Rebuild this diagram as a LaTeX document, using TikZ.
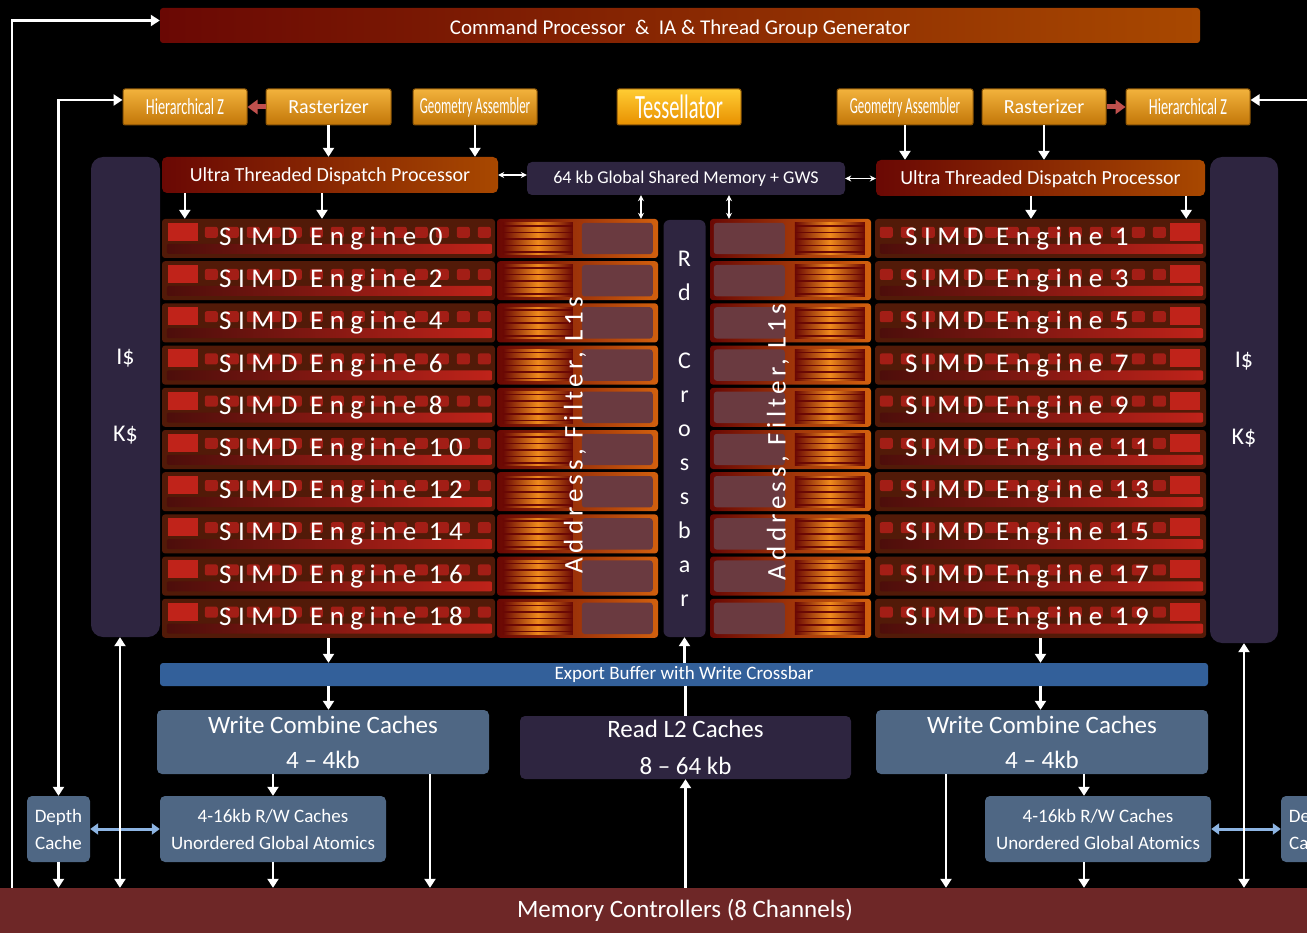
\documentclass[tikz,border=0pt]{standalone}
\usepackage{fontspec}
\setmainfont{Carlito}
\newfontfamily\spacedfont[LetterSpace=24]{Carlito}
\usetikzlibrary{calc,arrows.meta,backgrounds}
\definecolor{ctrlred}{HTML}{C0504D}
\definecolor{panelpurple}{HTML}{2E2540}
\definecolor{slateblk}{HTML}{4F6784}
\definecolor{exportblue}{HTML}{33609A}
\definecolor{memred}{HTML}{6E2727}
\definecolor{linkblue}{HTML}{8DB4E2}
\definecolor{darkrust}{HTML}{6A0804}
\definecolor{rust}{HTML}{A84800}
\definecolor{goldtop}{HTML}{F2B23C}
\definecolor{goldbot}{HTML}{C27608}
\definecolor{tesstop}{HTML}{FFCC33}
\definecolor{tessbot}{HTML}{E89000}
\definecolor{simdbg}{HTML}{521A08}
\definecolor{simdred}{HTML}{C0231A}
\definecolor{filtorange}{HTML}{D2600E}
\definecolor{filtglow}{HTML}{F08A1C}
\definecolor{filtmauve}{HTML}{6A3A40}

\begin{document}
\begin{tikzpicture}[x=1pt,y=-1pt,
  show background rectangle,background rectangle/.style={fill=black},
  box/.style={rectangle,rounded corners=5pt,inner sep=0pt,text=white,align=center},
  unit/.style={box,left color=darkrust,right color=rust},
  gold/.style={box,rounded corners=2pt,top color=goldtop,bottom color=goldbot,draw=goldbot!70!black,line width=1pt,minimum height=36pt,font=\fontsize{20}{22}\selectfont},
  panel/.style={box,fill=panelpurple},
  cache/.style={box,fill=slateblk},
  simd/.style={box,rounded corners=3pt,fill=simdbg,minimum height=39pt},
  filt/.style={box,rounded corners=3pt,left color=darkrust,right color=filtorange,minimum height=39pt},
  engtxt/.style={text=white,inner sep=0pt,font=\spacedfont\fontsize{27}{28}\selectfont},
  redln/.style={ctrlred,line width=5pt},
  wline/.style={white,line width=2.5pt},
  warr/.style={wline,-{Triangle[length=9pt,width=11pt]}},
  wdbl/.style={wline,{Triangle[length=9pt,width=11pt]}-{Triangle[length=9pt,width=11pt]}},
  thinarr/.style={white,line width=1.5pt,{Stealth[length=6pt,width=6pt]}-{Stealth[length=6pt,width=6pt]}},
  bdbl/.style={linkblue,line width=3pt,{Triangle[length=8pt,width=11pt]}-{Triangle[length=8pt,width=11pt]}},
  ]
\useasboundingbox (0,0) rectangle (1307,933);
\clip (0,0) rectangle (1307,933);

% front end
\node[unit,rounded corners=3pt,minimum width=1040pt,minimum height=35pt,font=\fontsize{21}{26}\selectfont] (cp) at (680,25.5) {\raisebox{-9pt}[0pt][0pt]{Command Processor\ \ \&\ \ IA \& Thread Group Generator}};
\node[gold,minimum width=124pt] (hzL) at (185,107) {\scalebox{0.62}[1]{\fontsize{23}{24}\selectfont Hierarchical Z}};
\node[gold,minimum width=125pt] (rasL) at (328.5,107) {Rasterizer};
\node[gold,minimum width=124pt] (gaL) at (475,107) {\scalebox{0.56}[1]{\fontsize{23}{24}\selectfont Geometry Assembler}};
\node[gold,minimum width=124pt,top color=tesstop,bottom color=tessbot] (tess) at (679,107) {\scalebox{0.6}[1]{\fontsize{34}{36}\selectfont Tessellator}};
\node[gold,minimum width=136pt] (gaR) at (905,107) {\scalebox{0.56}[1]{\fontsize{23}{24}\selectfont Geometry Assembler}};
\node[gold,minimum width=124pt] (rasR) at (1044,107) {Rasterizer};
\node[gold,minimum width=124pt] (hzR) at (1188,107) {\scalebox{0.62}[1]{\fontsize{23}{24}\selectfont Hierarchical Z}};

\node[unit,minimum width=336pt,minimum height=36pt,font=\fontsize{20}{24}\selectfont] (udL) at (330,175) {\raisebox{-7pt}[0pt][0pt]{Ultra Threaded Dispatch Processor}};
\node[panel,minimum width=318pt,minimum height=33pt,font=\fontsize{18}{22}\selectfont] (gsm) at (686,178.5) {64 kb Global Shared Memory + GWS};
\node[unit,minimum width=329pt,minimum height=36pt,font=\fontsize{20}{24}\selectfont] (udR) at (1040.5,178) {\raisebox{-7pt}[0pt][0pt]{Ultra Threaded Dispatch Processor}};

% instruction / constant caches and crossbar
\node[panel,rounded corners=12pt,minimum width=69pt,minimum height=480pt,font=\fontsize{24}{37}\selectfont] (icL) at (125.5,397) {I\$\\[40pt]K\$};
\node[panel,rounded corners=12pt,minimum width=68pt,minimum height=486pt,font=\fontsize{24}{37}\selectfont] (icR) at (1244,400) {I\$\\[40pt]K\$};
\node[panel,rounded corners=6pt,minimum width=42pt,minimum height=417pt,font=\fontsize{24}{34}\selectfont] (xbar) at (684.5,428.5) {R\\d\\[34pt]C\\r\\o\\s\\s\\b\\a\\r};

% SIMD engines
\foreach \r in {0,...,9}{
  \pgfmathsetmacro{\yy}{238.5+42.2*\r}
  \pgfmathtruncatemacro{\nl}{2*\r}
  \pgfmathtruncatemacro{\nr}{2*\r+1}
  \node[simd,minimum width=333pt] (sL\r) at (328.5,\yy) {};
  \fill[simdred] ($(sL\r.north west)+(6,4)$) rectangle ++(30,18);
  \foreach \k in {0,...,13}
    \fill[simdred!85!black,rounded corners=2pt] ($(sL\r.north west)+(43+21*\k,8)$) rectangle ++(13,11);
  \shade[left color=simdred!40!black,right color=simdred,rounded corners=2pt] ($(sL\r.north west)+(5,25)$) rectangle ($(sL\r.north east)+(-3,35)$);
  \node[engtxt,anchor=west] (tL\r) at (219,\yy) {SIMD Engine \nl};
  \node[simd,minimum width=331pt] (sR\r) at (1040.5,\yy) {};
  \fill[simdred] ($(sR\r.north east)+(-36,4)$) rectangle ++(30,18);
  \foreach \k in {0,...,13}
    \fill[simdred!85!black,rounded corners=2pt] ($(sR\r.north west)+(5+21*\k,8)$) rectangle ++(13,11);
  \shade[left color=simdred!40!black,right color=simdred,rounded corners=2pt] ($(sR\r.north west)+(5,25)$) rectangle ($(sR\r.north east)+(-3,35)$);
  \node[engtxt,anchor=west] (tR\r) at (905,\yy) {SIMD Engine \nr};
  % texture units
  \node[filt,minimum width=161pt] (afL\r) at (577.5,\yy) {};
  \shade[left color=darkrust,right color=darkrust,middle color=filtglow] ($(afL\r.north west)+(6,4)$) rectangle ($(afL\r.south west)+(76,-4)$);
  \foreach \s in {0,...,4}
    \draw[darkrust,line width=1.5pt] ($(afL\r.north west)+(6,7+6.5*\s)$) -- ++(70,0);
  \fill[filtmauve,rounded corners=3pt] ($(afL\r.north west)+(85,4)$) rectangle ($(afL\r.south west)+(156,-4)$);
  \node[filt,minimum width=161pt] (afR\r) at (790.5,\yy) {};
  \shade[left color=darkrust,right color=darkrust,middle color=filtglow] ($(afR\r.north west)+(85,4)$) rectangle ($(afR\r.south west)+(155,-4)$);
  \foreach \s in {0,...,4}
    \draw[darkrust,line width=1.5pt] ($(afR\r.north west)+(85,7+6.5*\s)$) -- ++(70,0);
  \fill[filtmauve,rounded corners=3pt] ($(afR\r.north west)+(4,4)$) rectangle ($(afR\r.south west)+(75,-4)$);
}
\node[engtxt,rotate=90,font=\addfontfeature{LetterSpace=16}\fontsize{27}{28}\selectfont] (adL) at (575,435) {Address, Filter, L1s};
\node[engtxt,rotate=90,font=\addfontfeature{LetterSpace=16}\fontsize{27}{28}\selectfont] (adR) at (778,442) {Address, Filter, L1s};

% back end
\node[box,rounded corners=3pt,fill=exportblue,minimum width=1048pt,minimum height=23pt,font=\fontsize{19}{22}\selectfont] (exp) at (684,674.5) {Export Buffer with Write Crossbar};
\node[cache,minimum width=332pt,minimum height=64pt,font=\fontsize{25}{35}\selectfont] (wcL) at (323,742) {Write Combine Caches\\4 -- 4kb};
\node[panel,minimum width=331pt,minimum height=63pt,font=\fontsize{25}{37}\selectfont] (rl2) at (685.5,747.5) {Read L2 Caches\\8 -- 64 kb};
\node[cache,minimum width=332pt,minimum height=64pt,font=\fontsize{25}{35}\selectfont] (wcR) at (1042,742) {Write Combine Caches\\4 -- 4kb};
\node[cache,minimum width=226pt,minimum height=66pt,font=\fontsize{19}{27}\selectfont] (rwL) at (273,829) {4-16kb R/W Caches\\Unordered Global Atomics};
\node[cache,minimum width=226pt,minimum height=66pt,font=\fontsize{19}{27}\selectfont] (rwR) at (1098,829) {4-16kb R/W Caches\\Unordered Global Atomics};
\node[cache,minimum width=63pt,minimum height=66pt,font=\fontsize{19}{27}\selectfont] (dcL) at (58.5,829) {Depth\\Cache};
\node[cache,minimum width=63pt,minimum height=66pt,font=\fontsize{19}{27}\selectfont] (dcR) at (1312.5,829) {Depth\\Cache};
\node[box,rounded corners=0pt,fill=memred,minimum width=1370pt,minimum height=45pt,font=\fontsize{25}{30}\selectfont] (mc) at (685,910.5) {Memory Controllers (8 Channels)};

% control loop (red)
\coordinate (frameTL) at (76,72);
\coordinate (frameBR) at (1293,670);
\begin{scope}[on background layer]
\draw[redln] (exp.west |- frameBR) -| (frameTL) -| (frameBR) -- (exp.east |- frameBR);
\draw[redln] (cp.south -| tess.north) -- (tess.north);
\foreach \b in {rasL,gaL,gaR,rasR}
  \draw[redln] (frameTL -| \b.north) -- (\b.north);
\draw[redln] (gaL.east) -- (tess.west);
\draw[redln] (tess.east) -- (gaR.west);
\end{scope}
\draw[redln,-{Triangle[length=10pt,width=14pt]}] (rasL.west) -- (hzL.east);
\draw[redln,-{Triangle[length=10pt,width=14pt]}] (rasR.east) -- (hzR.west);

% data paths (white)
\coordinate (railA) at (12,0);
\coordinate (railC) at (120,0);
\coordinate (edgeR) at (1307,100);
\coordinate (wcLd) at (430,0);
\coordinate (wcRd) at (946,0);
\coordinate (gsmA) at ([xshift=-45pt]gsm.south);
\coordinate (gsmB) at ([xshift=43pt]gsm.south);
\coordinate (udLa) at ([xshift=23pt]udL.south west);
\coordinate (udLb) at ([xshift=-8pt]udL.south);
\coordinate (udRa) at ([xshift=-9.5pt]udR.south);
\coordinate (udRb) at ([xshift=-19pt]udR.south east);
\coordinate (rwRx) at ([xshift=-14pt]rwR.north);
\draw[warr] (mc.north -| railA) |- ([yshift=5pt]cp.west);
\draw[wline,{Triangle[length=9pt,width=11pt]}-{Triangle[length=9pt,width=11pt]}] (dcL.north) |- ([yshift=7pt]hzL.west);
\draw[warr] (edgeR) -- (edgeR -| hzR.east);
\foreach \b/\d in {rasL/udL,gaL/udL,gaR/udR,rasR/udR}
  \draw[warr] (\b.south) -- (\b.south |- \d.north);
\draw[thinarr] (udL.east) -- (udL.east -| gsm.west);
\draw[thinarr] (gsm.east) -- (gsm.east -| udR.west);
\draw[thinarr] (gsmA) -- (gsmA |- afL0.north);
\draw[thinarr] (gsmB) -- (gsmB |- afR0.north);
\foreach \c in {udLa,udLb,udRa,udRb}
  \draw[warr] (\c) -- (\c |- sL0.north);
\draw[warr] (sL9.south) -- (sL9.south |- exp.north);
\draw[warr] (sR9.south) -- (sR9.south |- exp.north);
\draw[warr] (exp.south -| sL9.south) -- (wcL.north -| sL9.south);
\draw[warr] (exp.south -| sR9.south) -- (wcR.north -| sR9.south);
\draw[wline] (rl2.north) -- (rl2.north |- exp.south);
\draw[warr] (exp.north -| xbar.south) -- (xbar.south);
\draw[warr] (mc.north -| rl2.south) -- (rl2.south);
\draw[warr] (wcL.south -| rwL.north) -- (rwL.north);
\draw[warr] (rwL.south) -- (rwL.south |- mc.north);
\draw[warr] (dcL.south) -- (dcL.south |- mc.north);
\draw[warr] (wcL.south -| wcLd) -- (mc.north -| wcLd);
\draw[warr] (wcR.south -| wcRd) -- (mc.north -| wcRd);
\draw[warr] (wcR.south -| rwRx) -- (rwRx);
\draw[warr] (rwRx |- rwR.south) -- (rwRx |- mc.north);
\draw[bdbl] (dcL.east) -- (rwL.west);
\draw[bdbl] (rwR.east) -- (dcR.west);
\draw[wdbl] (mc.north -| railC) -- (icL.south -| railC);
\draw[wdbl] (mc.north -| icR.south) -- (icR.south);
\end{tikzpicture}
\end{document}
